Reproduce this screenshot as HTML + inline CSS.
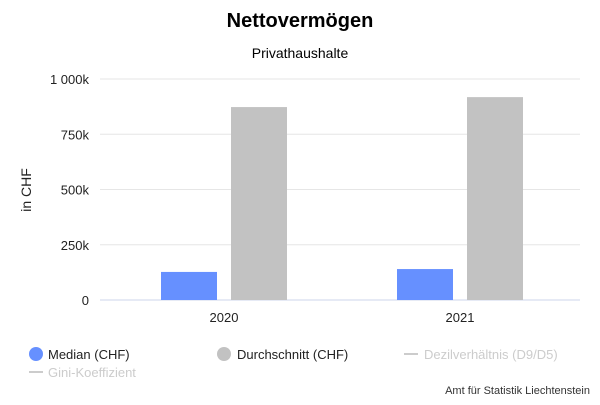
<!DOCTYPE html>
<html><head><meta charset="utf-8"><style>
body{margin:0;background:#fff;font-family:"Liberation Sans","DejaVu Sans",sans-serif;}
svg text{font-family:"Liberation Sans","DejaVu Sans",sans-serif;}
</style></head><body>
<svg id="chart" width="600" height="400" xmlns="http://www.w3.org/2000/svg">
<rect width="600" height="400" fill="#fff"/>
<text x="300" y="27" text-anchor="middle" font-size="20" font-weight="bold" fill="#000">Nettovermögen</text>
<text x="300" y="58" text-anchor="middle" font-size="14" fill="#000">Privathaushalte</text>
<text transform="translate(31,190) rotate(-90)" text-anchor="middle" font-size="14" fill="#222">in CHF</text>
<g id="grid"></g><g id="bars"></g><g id="xlabels"></g>
<g>
<g><circle cx="36" cy="354" r="7" fill="#6690ff"/><text x="48" y="359" font-size="13" fill="#222">Median (CHF)</text></g>
<g><circle cx="224" cy="354" r="7" fill="#c2c2c2"/><text x="237" y="359" font-size="13" fill="#222">Durchschnitt (CHF)</text></g>
<g><line x1="404" y1="354" x2="418" y2="354" stroke="#ccc" stroke-width="2"/><text x="424" y="359" font-size="13" fill="#ccc">Dezilverhältnis (D9/D5)</text></g>
<g><line x1="29" y1="372" x2="43" y2="372" stroke="#ccc" stroke-width="2"/><text x="48" y="377" font-size="13" fill="#ccc">Gini-Koeffizient</text></g>
</g>
<text x="590" y="394" text-anchor="end" font-size="11" fill="#333">Amt für Statistik Liechtenstein</text>
</svg>
<script>
const categories=["2020","2021"];
const medianValues=[127000,140000];
const averageValues=[873000,918000];
const yTicks=[0,250000,500000,750000,1000000];
const yTickLabels=["0","250k","500k","750k","1 000k"];
const NS="http://www.w3.org/2000/svg";
const plotLeft=106,plotRight=578,plotTop=79,plotBottom=300,yMax=1000000;
function yScale(v){return plotBottom-(v/yMax)*(plotBottom-plotTop);}
function xCenter(i){return plotLeft+(i+0.5)*(plotRight-plotLeft)/categories.length;}
function mk(t,a,p){const e=document.createElementNS(NS,t);for(const k in a)e.setAttribute(k,a[k]);p.appendChild(e);return e;}
const grid=document.getElementById('grid');
yTicks.forEach((t,i)=>{
 const l=mk('line',{x1:plotLeft-6,x2:plotRight+2,y1:yScale(t),y2:yScale(t),stroke:i?'#e6e6e6':'#ccd6eb','stroke-width':1},grid);
 
 
 const tx=mk('text',{x:89,y:yScale(t)+5,'text-anchor':'end','font-size':13,fill:'#222'},grid);
 tx.textContent=yTickLabels[i];
 
 
});
const bars=document.getElementById('bars'),xl=document.getElementById('xlabels');
categories.forEach((c,i)=>{
 const cx=xCenter(i),w=56;
 const b1=mk('rect',{x:cx-63,y:yScale(medianValues[i]),width:w,height:plotBottom-yScale(medianValues[i]),fill:'#6690ff'},bars);
 
 
 const b2=mk('rect',{x:cx+7,y:yScale(averageValues[i]),width:w,height:plotBottom-yScale(averageValues[i]),fill:'#c2c2c2'},bars);
 
 
 const t=mk('text',{x:cx,y:322,'text-anchor':'middle','font-size':13,fill:'#222'},xl);
 t.textContent=c;
 
 
});
</script>
</body></html>
